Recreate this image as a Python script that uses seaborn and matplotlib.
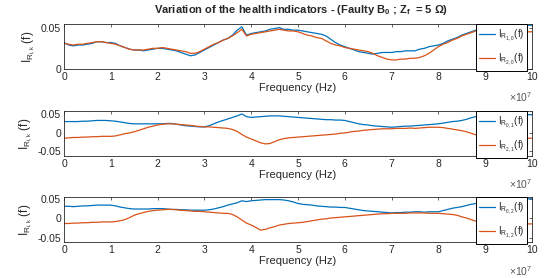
import numpy as np
import pandas as pd
import matplotlib
matplotlib.use("Agg")
import matplotlib.pyplot as plt
from matplotlib.ticker import FuncFormatter
import seaborn as sns

# frequency axis, 0 .. 1e8 Hz in steps of 1e6
freq = np.arange(101) * 1e6

# top panel: I_R(1,0) and I_R(2,0)
ir_10 = [0.032, 0.029, 0.028, 0.029, 0.029, 0.030, 0.031, 0.033, 0.033, 0.032,
         0.032, 0.031, 0.028, 0.026, 0.024, 0.023, 0.023, 0.022, 0.023, 0.024,
         0.025, 0.025, 0.024, 0.023, 0.022, 0.020, 0.018, 0.016, 0.017, 0.020,
         0.023, 0.026, 0.029, 0.032, 0.035, 0.037, 0.041, 0.047, 0.051, 0.041,
         0.043, 0.044, 0.045, 0.046, 0.048, 0.049, 0.050, 0.048, 0.048, 0.047,
         0.047, 0.046, 0.045, 0.044, 0.043, 0.042, 0.040, 0.036, 0.032, 0.029,
         0.027, 0.025, 0.023, 0.021, 0.020, 0.019, 0.018, 0.019, 0.020, 0.020,
         0.020, 0.021, 0.021, 0.022, 0.022, 0.022, 0.024, 0.025, 0.027, 0.028,
         0.029, 0.031, 0.034, 0.036, 0.038, 0.041, 0.043, 0.045, 0.047, 0.049,
         0.050, 0.050, 0.051, 0.051, 0.052, 0.052, 0.053, 0.052, 0.053, 0.053,
         0.053]
ir_20 = [0.031, 0.030, 0.029, 0.030, 0.030, 0.031, 0.032, 0.033, 0.033, 0.032,
         0.031, 0.030, 0.028, 0.026, 0.024, 0.023, 0.023, 0.023, 0.024, 0.025,
         0.025, 0.026, 0.025, 0.024, 0.023, 0.022, 0.021, 0.019, 0.019, 0.021,
         0.024, 0.027, 0.030, 0.032, 0.035, 0.037, 0.040, 0.044, 0.048, 0.040,
         0.042, 0.043, 0.044, 0.045, 0.046, 0.047, 0.048, 0.047, 0.046, 0.046,
         0.045, 0.043, 0.041, 0.040, 0.038, 0.037, 0.034, 0.031, 0.029, 0.028,
         0.026, 0.025, 0.024, 0.023, 0.022, 0.021, 0.019, 0.016, 0.014, 0.012,
         0.011, 0.011, 0.012, 0.012, 0.013, 0.013, 0.014, 0.016, 0.019, 0.023,
         0.027, 0.030, 0.032, 0.035, 0.037, 0.040, 0.042, 0.044, 0.046, 0.047,
         0.048, 0.049, 0.049, 0.050, 0.050, 0.049, 0.048, 0.047, 0.046, 0.045,
         0.045]

# middle panel: I_R(0,1) and I_R(2,1)
ir_01 = [0.029, 0.029, 0.029, 0.029, 0.030, 0.030, 0.031, 0.032, 0.032, 0.032,
         0.031, 0.030, 0.028, 0.026, 0.024, 0.023, 0.023, 0.023, 0.023, 0.023,
         0.023, 0.023, 0.024, 0.024, 0.022, 0.020, 0.018, 0.017, 0.016, 0.015,
         0.015, 0.018, 0.023, 0.028, 0.032, 0.036, 0.040, 0.044, 0.049, 0.042,
         0.040, 0.041, 0.042, 0.043, 0.044, 0.044, 0.044, 0.043, 0.042, 0.041,
         0.040, 0.039, 0.038, 0.037, 0.036, 0.035, 0.034, 0.034, 0.033, 0.033,
         0.032, 0.029, 0.026, 0.023, 0.021, 0.020, 0.018, 0.017, 0.016, 0.015,
         0.014, 0.015, 0.016, 0.017, 0.017, 0.018, 0.019, 0.020, 0.021, 0.022,
         0.023, 0.025, 0.027, 0.029, 0.030, 0.032, 0.035, 0.039, 0.042, 0.044,
         0.045, 0.046, 0.046, 0.046, 0.047, 0.046, 0.046, 0.046, 0.047, 0.047,
         0.047]
ir_21 = [-0.015, -0.014, -0.013, -0.013, -0.012, -0.012, -0.011, -0.011, -0.010, -0.010,
         -0.010, -0.009, -0.006, -0.003, -0.001, 0.002, 0.006, 0.010, 0.014, 0.017,
         0.020, 0.022, 0.023, 0.023, 0.022, 0.021, 0.020, 0.019, 0.017, 0.016,
         0.015, 0.015, 0.014, 0.013, 0.012, 0.011, 0.008, 0.003, -0.005, -0.012,
         -0.017, -0.022, -0.027, -0.030, -0.029, -0.024, -0.019, -0.016, -0.014, -0.013,
         -0.012, -0.011, -0.010, -0.009, -0.008, -0.007, -0.006, -0.005, -0.004, -0.002,
         -0.001, 0.001, 0.003, 0.004, 0.006, 0.007, 0.008, 0.009, 0.010, 0.010,
         0.010, 0.011, 0.011, 0.011, 0.012, 0.011, 0.012, 0.013, 0.014, 0.014,
         0.014, 0.013, 0.011, 0.009, 0.007, 0.005, 0.002, -0.002, -0.006, -0.010,
         -0.012, -0.013, -0.013, -0.014, -0.014, -0.015, -0.015, -0.015, -0.015, -0.015,
         -0.015]

# bottom panel: I_R(0,2) and I_R(1,2)
ir_02 = [0.031, 0.031, 0.030, 0.031, 0.032, 0.032, 0.033, 0.034, 0.034, 0.034,
         0.034, 0.032, 0.029, 0.027, 0.025, 0.024, 0.024, 0.024, 0.024, 0.025,
         0.025, 0.025, 0.024, 0.023, 0.023, 0.022, 0.022, 0.021, 0.021, 0.021,
         0.021, 0.022, 0.024, 0.027, 0.030, 0.034, 0.037, 0.040, 0.045, 0.043,
         0.045, 0.046, 0.047, 0.048, 0.048, 0.048, 0.048, 0.047, 0.045, 0.042,
         0.038, 0.036, 0.035, 0.034, 0.032, 0.031, 0.030, 0.029, 0.029, 0.028,
         0.028, 0.026, 0.024, 0.022, 0.020, 0.019, 0.018, 0.017, 0.016, 0.015,
         0.014, 0.015, 0.015, 0.016, 0.016, 0.017, 0.017, 0.016, 0.017, 0.017,
         0.017, 0.020, 0.023, 0.026, 0.028, 0.030, 0.033, 0.036, 0.038, 0.040,
         0.042, 0.044, 0.046, 0.047, 0.048, 0.049, 0.049, 0.050, 0.050, 0.050,
         0.050]
ir_12 = [-0.013, -0.013, -0.012, -0.012, -0.011, -0.011, -0.010, -0.010, -0.009, -0.009,
         -0.009, -0.008, -0.006, -0.003, 0.002, 0.008, 0.012, 0.015, 0.018, 0.020,
         0.021, 0.022, 0.023, 0.023, 0.022, 0.021, 0.020, 0.019, 0.018, 0.018,
         0.017, 0.016, 0.015, 0.014, 0.013, 0.013, 0.010, 0.004, -0.004, -0.012,
         -0.017, -0.023, -0.030, -0.028, -0.024, -0.021, -0.017, -0.015, -0.013, -0.012,
         -0.011, -0.010, -0.008, -0.006, -0.004, -0.002, -0.001, 0.001, 0.002, 0.003,
         0.004, 0.005, 0.006, 0.007, 0.008, 0.009, 0.010, 0.011, 0.012, 0.012,
         0.013, 0.013, 0.013, 0.013, 0.014, 0.014, 0.014, 0.014, 0.013, 0.013,
         0.013, 0.012, 0.011, 0.010, 0.008, 0.004, 0.001, -0.003, -0.007, -0.011,
         -0.013, -0.013, -0.014, -0.014, -0.014, -0.014, -0.014, -0.014, -0.014, -0.014,
         -0.014]

panels = [
    (ir_10, ir_20, r"I$_{R_{1,0}}$(f)", r"I$_{R_{2,0}}$(f)", (0, 0.0545), [0, 0.05]),
    (ir_01, ir_21, r"I$_{R_{0,1}}$(f)", r"I$_{R_{2,1}}$(f)", (-0.062, 0.057), [-0.05, 0, 0.05]),
    (ir_02, ir_12, r"I$_{R_{0,2}}$(f)", r"I$_{R_{1,2}}$(f)", (-0.061, 0.054), [-0.05, 0, 0.05]),
]

blue = "#0072BD"
orange = "#D95319"

sns.set_style("white")
plt.rcParams["font.family"] = ["Liberation Sans", "DejaVu Sans"]
plt.rcParams["mathtext.fontset"] = "custom"
plt.rcParams["mathtext.rm"] = "Liberation Sans"
plt.rcParams["mathtext.it"] = "Liberation Sans"
plt.rcParams["mathtext.default"] = "regular"

fig = plt.figure(figsize=(5.48, 2.78), dpi=100)
bottoms = [0.7518, 0.4388, 0.1284]

for (b, (s1, s2, l1, l2, ylim, yticks)) in zip(bottoms, panels):
    ax = fig.add_axes([0.1168, b, 0.854, 0.162])
    df = pd.DataFrame({"f": freq, "a": s1, "b": s2})
    sns.lineplot(data=df, x="f", y="a", ax=ax, color=blue, lw=0.9, label=l1)
    sns.lineplot(data=df, x="f", y="b", ax=ax, color=orange, lw=0.9, label=l2)
    ax.set_xlim(0, 1e8)
    ax.set_ylim(*ylim)
    ax.set_yticks(yticks)
    ax.set_yticklabels([f"{t:g}" for t in yticks])
    ax.set_xticks(np.arange(11) * 1e7)
    ax.xaxis.set_major_formatter(FuncFormatter(lambda v, p: f"{v / 1e7:g}"))
    ax.tick_params(direction="in", length=2.5, width=0.5, top=True, right=True,
                   labelsize=7.5, colors="#262626", pad=2)
    for sp in ax.spines.values():
        sp.set_linewidth(0.6)
        sp.set_color("#262626")
    ax.set_xlabel("Frequency (Hz)", fontsize=8, color="#262626", labelpad=1)
    ax.set_ylabel(r"I$_{R_{i,k}}$ (f)", fontsize=8.5, color="#262626", labelpad=2)
    ax.text(1.0, -0.48, r"$\times$10$^{7}$", transform=ax.transAxes, ha="right",
            va="top", fontsize=7.5, color="#555555")
    leg = ax.legend(loc="upper right", bbox_to_anchor=(0.99, 1.0), fontsize=7,
                    frameon=True, fancybox=False, framealpha=1, handlelength=1.6,
                    labelspacing=0.9, borderpad=0.35, handletextpad=0.3,
                    borderaxespad=0)
    leg.get_frame().set_edgecolor("black")
    leg.get_frame().set_linewidth(0.7)

fig.text(0.55, 0.965, r"Variation of the health indicators - (Faulty B$_0$ ; Z$_f$  = 5 $\Omega$)",
         ha="center", va="center", fontsize=8, fontweight="bold", color="#262626")

fig.savefig("out.png", dpi=100)
